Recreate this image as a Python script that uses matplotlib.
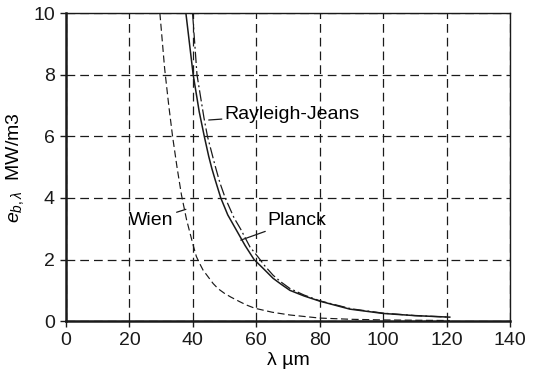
import matplotlib
matplotlib.use("Agg")
import matplotlib.pyplot as plt

plt.rcParams["font.family"] = ["Liberation Sans", "DejaVu Sans"]
plt.rcParams["mathtext.fontset"] = "custom"
plt.rcParams["mathtext.rm"] = "Liberation Sans"
plt.rcParams["mathtext.it"] = "Liberation Sans:italic"

# Blackbody emissive power (MW/m3) against wavelength (micrometres)
planck_wl = [37.8, 40.1, 42.0, 43.6, 45.0, 46.0, 47.0, 48.8, 51.0, 54.3, 56.5, 59.3, 62.0, 65.3,
             67.8, 70.6, 75.0, 80.0, 89.5, 100.0, 110.0, 121.0]
planck_e = [10.0, 8.0, 6.8, 6.0, 5.35, 4.95, 4.6, 4.0, 3.45, 2.85, 2.45, 2.0, 1.73, 1.39,
            1.2, 1.0, 0.82, 0.65, 0.39, 0.25, 0.18, 0.13]

rj_wl = [39.9, 41.3, 43.5, 44.6, 47.0, 48.5, 50.2, 53.0, 55.0, 58.0, 60.5, 62.8, 65.3, 67.8,
         70.6, 75.0, 80.0, 90.0, 100.0, 110.0, 121.0]
rj_e = [10.0, 8.0, 6.6, 6.0, 5.05, 4.5, 4.0, 3.35, 3.0, 2.41, 2.09, 1.78, 1.49, 1.27,
        1.06, 0.85, 0.66, 0.4, 0.26, 0.18, 0.13]

wien_wl = [29.6, 31.1, 32.4, 33.6, 35.0, 36.4, 38.0, 40.0, 41.1, 42.0, 43.2, 46.4, 48.0, 50.0,
           52.0, 54.8, 57.0, 59.5, 65.0, 70.6, 80.0, 90.0, 100.0, 110.0, 121.0]
wien_e = [10.0, 8.2, 7.0, 6.0, 5.0, 4.1, 3.3, 2.5, 2.1, 1.9, 1.66, 1.22, 1.05, 0.9,
          0.78, 0.63, 0.52, 0.42, 0.29, 0.2, 0.1, 0.06, 0.04, 0.03, 0.02]

x_ticks = list(range(0, 141, 20))
y_ticks = list(range(0, 11, 2))

ink = "#1a1a1a"
fs = 14

fig = plt.figure(figsize=(5.34, 3.86), dpi=100)
ax = fig.add_axes([0.1236, 0.168, 0.8315, 0.798])

ax.plot(planck_wl, planck_e, color=ink, lw=1.1)
ax.plot(rj_wl, rj_e, color=ink, lw=0.9, dashes=(9, 2.5, 1.5, 2.5))
ax.plot(wien_wl, wien_e, color=ink, lw=0.85, dashes=(6, 3))

ax.set_xlim(0, 140)
ax.set_ylim(0, 10)
ax.set_xticks(x_ticks)
ax.set_yticks(y_ticks)

ax.grid(True, color=ink, lw=0.9, dashes=(7, 4))
ax.tick_params(direction="out", length=4, width=1, colors=ink, labelsize=fs, pad=4)

for side in ("left", "bottom"):
    ax.spines[side].set_linewidth(1.8)
for side in ("top", "right"):
    ax.spines[side].set_linewidth(1.0)
for sp in ax.spines.values():
    sp.set_color(ink)

ax.set_xlabel("λ µm", fontsize=fs, labelpad=2)
ax.set_ylabel(r"$e_{b,\lambda}$  MW/m3", fontsize=fs, labelpad=5)

# Curve labels with short leader lines
ax.annotate("Rayleigh-Jeans", xy=(45.0, 6.53), xytext=(50.0, 6.72), fontsize=fs, va="center",
            arrowprops=dict(arrowstyle="-", color=ink, lw=0.9, shrinkA=0, shrinkB=0))
ax.annotate("Planck", xy=(55.1, 2.63), xytext=(63.5, 3.28), fontsize=fs, va="center",
            arrowprops=dict(arrowstyle="-", color=ink, lw=0.9, shrinkA=0, shrinkB=0))
ax.annotate("Wien", xy=(37.8, 3.63), xytext=(34.0, 3.28), fontsize=fs, va="center", ha="right",
            arrowprops=dict(arrowstyle="-", color=ink, lw=0.9, shrinkA=0, shrinkB=0))

fig.savefig("out.png", dpi=100)
